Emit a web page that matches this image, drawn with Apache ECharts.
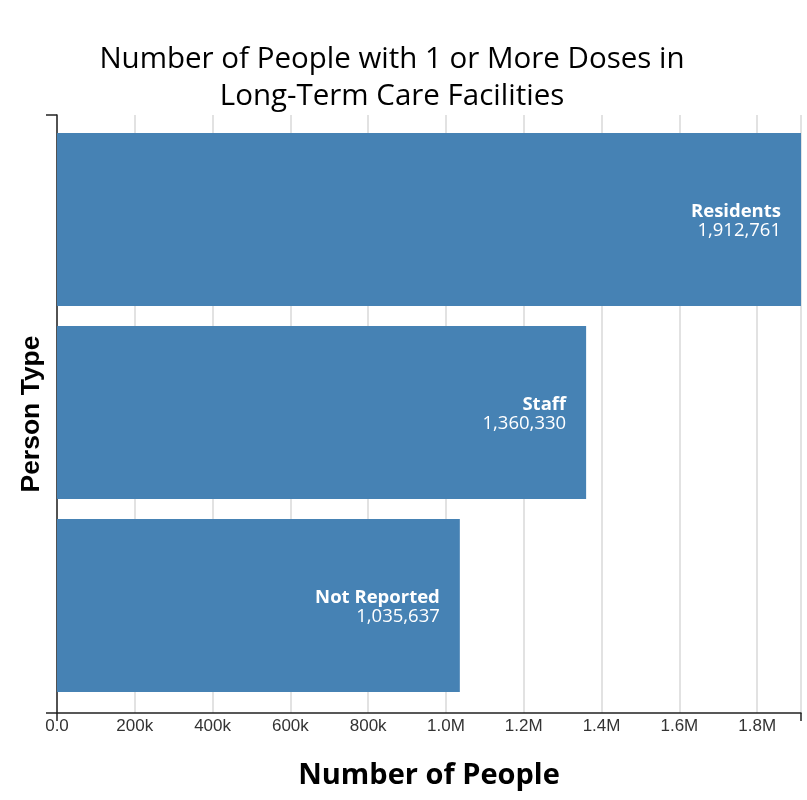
<!DOCTYPE html>
<html>
<head>
<meta charset="utf-8">
<script src="https://cdn.jsdelivr.net/npm/echarts@6/dist/echarts.min.js"></script>
<style>html,body{margin:0;padding:0;background:#fff}#c{width:807px;height:800px}</style>
</head>
<body>
<div id="c"></div>
<script>
const categories = ["Residents", "Staff", "Not Reported"];
const values = [1912761, 1360330, 1035637];
const tickStep = 200000;

const chart = echarts.init(document.getElementById('c'));
const fmtNum = v => v.toLocaleString('en-US');
const fmtTick = v => {
  if (v === 0) return '0.0';
  if (v >= 1000000) return (v / 1000000).toFixed(1) + 'M';
  return Math.round(v / 1000) + 'k';
};
const maxVal = Math.max(...values);

chart.setOption({
  animation: false,
  title: {
    text: 'Number of People with 1 or More Doses in\nLong-Term Care Facilities',
    left: 387, top: 36, textAlign: 'center',
    textStyle: { fontFamily: 'Open Sans', fontSize: 29.5, fontWeight: 'normal', color: '#000', lineHeight: 37 }
  },
  grid: [
    { left: 57, right: 6, top: 115, bottom: 87, containLabel: false, outerBoundsMode: 'none' },
    { left: 57, right: 6, top: 123, bottom: 98, containLabel: false, outerBoundsMode: 'none' }
  ],
  xAxis: [{
    gridIndex: 0, type: 'value', min: 0, max: maxVal, interval: tickStep,
    name: 'Number of People', nameLocation: 'middle', nameGap: 48,
    nameTextStyle: { fontFamily: 'Open Sans', fontSize: 29, fontWeight: 'bold', color: '#000' },
    axisLine: { show: true, lineStyle: { color: '#222', width: 1.5 } },
    axisTick: { show: false },
    axisLabel: { formatter: fmtTick, showMaxLabel: false, fontFamily: 'Liberation Sans', fontSize: 17, color: '#333', margin: 5 },
    splitLine: { show: true, lineStyle: { color: '#d9d9d9', width: 1.5 } }
  }, {
    gridIndex: 1, type: 'value', min: 0, max: maxVal, show: false
  }],
  yAxis: [{
    gridIndex: 0, type: 'value', min: 0, max: 1,
    name: 'Person Type', nameLocation: 'middle', nameGap: 12, nameRotate: 90,
    nameTextStyle: { fontFamily: 'Liberation Sans', fontSize: 26.5, fontWeight: 'bold', color: '#000' },
    axisLine: { show: true, lineStyle: { color: '#222', width: 1.5 } },
    axisTick: { show: false },
    axisLabel: { show: false },
    splitLine: { show: false }
  }, {
    gridIndex: 1, type: 'category', data: categories, inverse: true, show: false
  }],
  series: [{
    type: 'bar',
    xAxisIndex: 1, yAxisIndex: 1,
    data: values,
    barCategoryGap: '10.4%',
    itemStyle: { color: '#4682b4' },
    label: {
      show: true, position: 'insideRight', distance: 20, align: 'right',
      padding: [4, 0, 0, 0],
      formatter: p => '{a|' + p.name + '}\n{b|' + fmtNum(p.value) + '}',
      rich: {
        a: { fontFamily: 'Open Sans', fontSize: 18.5, fontWeight: 'bold', color: '#fff', lineHeight: 19, align: 'right' },
        b: { fontFamily: 'Open Sans', fontSize: 18.5, color: '#fff', lineHeight: 19, align: 'right' }
      }
    }
  }]
});

// axis end ticks (domain caps), positioned from the axis scales
const x0 = chart.convertToPixel({ xAxisIndex: 0 }, 0);
const x1 = chart.convertToPixel({ xAxisIndex: 0 }, maxVal);
const yTop = chart.convertToPixel({ yAxisIndex: 0 }, 1);
const yBot = chart.convertToPixel({ yAxisIndex: 0 }, 0);
const ls = { stroke: '#222', lineWidth: 1.5 };
chart.setOption({
  graphic: [
    { type: 'line', shape: { x1: x0 - 11, y1: yTop, x2: x0, y2: yTop }, style: ls, z: 100 },
    { type: 'line', shape: { x1: x0 - 11, y1: yBot, x2: x0, y2: yBot }, style: ls, z: 100 },
    { type: 'line', shape: { x1: x0, y1: yBot, x2: x0, y2: yBot + 8 }, style: ls, z: 100 },
    { type: 'line', shape: { x1: x1, y1: yBot, x2: x1, y2: yBot + 8 }, style: ls, z: 100 }
  ]
});
</script>
</body>
</html>
